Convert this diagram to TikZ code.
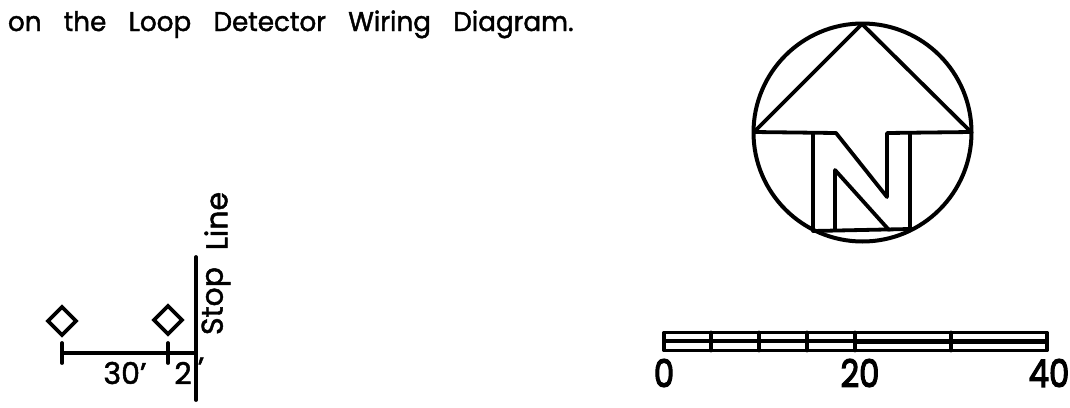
\documentclass[tikz,border=0pt]{standalone}
\usepackage{fontspec}
\setmainfont[FakeBold=1.6]{Poppins}
\newfontfamily\digitfont[FakeBold=3.5]{Poppins}
\newcommand{\lbl}[2][1]{\fontsize{30}{32}\selectfont\scalebox{#1}[1]{#2}}
\newcommand{\bigd}[1]{\digitfont\fontsize{38}{40}\selectfont\scalebox{0.85}[1]{#1}}
\newcommand{\gp}{\hspace{23pt}}
\tikzset{
  heavy/.style={draw=black,line width=4pt,line join=round,line cap=round},
  med/.style={draw=black,line width=3.8pt,line join=round,line cap=round},
  txt/.style={inner sep=0pt,outer sep=0pt,text=black},
}
\begin{document}
\begin{tikzpicture}[x=1pt,y=-1pt]
\useasboundingbox (0,0) rectangle (1070,407);
\fill[white] (0,0) rectangle (1070,407);
% heading
\node[txt,anchor=base west] (head) at (8,31) {\fontsize{27}{30}\selectfont\scalebox{0.97}[1]{on\gp the\gp Loop\gp Detector\gp Wiring\gp Diagram.}};
% north arrow
\draw[heavy] (862.5,132.5) circle (109);
\draw[med] (754,132) -- (836,133) -- (887,197) -- (887,133) -- (971,132) -- (862,24) -- cycle;
\draw[med] (813,133) -- (813,231) -- (910,229) -- (910,133);
\draw[med] (835,230) -- (835,170) -- (889,230);
% scale bar
\draw[med] (664,332.5) rectangle (1047,350.5);
\draw[med] (664,341) -- (855,341);
\draw[line width=5pt] (855,341) -- (1047,341);
\foreach \xx in {711,759,807,855,951} \draw[med] (\xx,332.5) -- (\xx,350.5);
\node[txt] (s0) at (664,373) {\bigd{0}};
\node[txt] (s20) at (860,373) {\bigd{20}};
\node[txt] (s40) at (1049,373) {\bigd{40}};
% stop line
\coordinate (stopT) at (196,257);
\coordinate (stopB) at (196,400);
\draw[med] (stopT) -- (stopB);
\node[txt,rotate=90] (stopl) at (216,301) {\lbl{Stop}};
\node[txt,rotate=90] (linel) at (216,221) {\lbl{Line}};
% detectors
\draw[med,line join=miter] (62,307) -- (76,321) -- (62,335) -- (48,321) -- cycle;
\draw[med,line join=miter] (168,306) -- (182,320) -- (168,334) -- (154,320) -- cycle;
% dimension
\coordinate (d0) at (62,353);
\coordinate (d1) at (168,353);
\coordinate (d2) at (196,353);
\draw[med] (d0) -- (d1) -- (d2);
\draw[med] (62,343) -- (62,363);
\draw[med] (168,343) -- (168,363);
\node[txt] (d30) at (125,373) {\lbl{30'}};
\node[txt] (d2l) at (183,373) {\lbl{2}};
\node[txt] (d2p) at (201,368) {\lbl{'}};
\end{tikzpicture}
\end{document}
